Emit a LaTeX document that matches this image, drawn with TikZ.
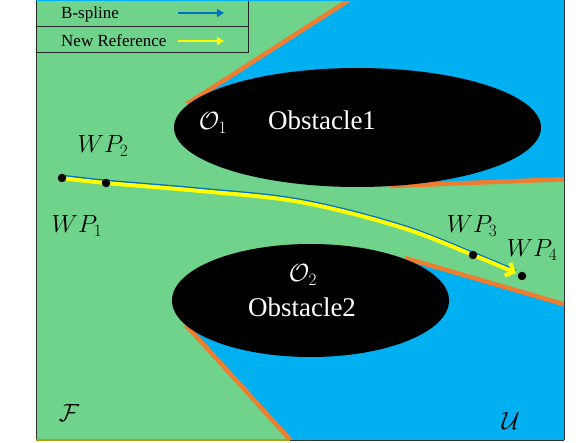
\documentclass[tikz,border=0pt]{standalone}
\usepackage{fontspec}
\setmainfont{Liberation Serif}
\usetikzlibrary{arrows.meta}
\definecolor{freeg}{RGB}{112,211,139}
\definecolor{unsafe}{RGB}{0,176,240}
\definecolor{bord}{RGB}{237,125,49}
\definecolor{splineblue}{RGB}{0,112,192}
\definecolor{refyellow}{RGB}{255,255,0}
\definecolor{olive}{RGB}{170,160,20}
\tikzset{
  boundary/.style={bord, line width=4.5pt},
  obstacle/.style={fill=black},
  wpdot/.style={circle, fill=black, inner sep=0pt, minimum size=8.5pt},
  wplabel/.style={anchor=base, inner sep=0pt, font=\fontsize{26}{30}\selectfont},
  oblabel/.style={anchor=base, inner sep=0pt, text=white, font=\fontsize{27}{30}\selectfont},
  oname/.style={anchor=base, inner sep=0pt, text=white, font=\fontsize{25}{30}\selectfont},
  setlabel/.style={anchor=base, inner sep=0pt, font=\fontsize{30}{34}\selectfont},
  legtext/.style={anchor=west, inner sep=0pt, font=\fontsize{17}{20}\selectfont},
  legline/.style={line width=0.9pt, draw=black!85},
}
\begin{document}
\begin{tikzpicture}[x=1pt,y=-1pt]
\useasboundingbox (0,0) rectangle (586,443);
\begin{scope}
\clip (36,0) rectangle (564,440);
\fill[freeg] (36,0) rectangle (564,440);
\fill[unsafe] (349,0) -- (187,105) -- (357,127) -- (393,186) -- (564,179) -- (564,0) -- cycle;
\fill[unsafe] (410,260) -- (310,300) -- (188,327) -- (290,440) -- (564,440) -- (564,304) -- cycle;
\draw[boundary] (187,104) -- (360,-7);
\draw[boundary] (390,186) -- (570,179);
\draw[boundary] (186,325) -- (294,444);
\draw[boundary] (405,258) -- (570,306);
\fill[obstacle] (357.5,127.5) ellipse [x radius=183.5pt, y radius=59.5pt];
\fill[obstacle] (310.5,300.5) ellipse [x radius=138.5pt, y radius=56.5pt];
\end{scope}
% frame
\draw[black!80, line width=1pt] (36,0) -- (36,440);
\draw[black!80, line width=1pt] (564,0) -- (564,440);
\draw[olive, line width=1.2pt] (36,440) -- (290,440);
\draw[black!80, line width=1pt] (290,440) -- (564,440);
% legend
\draw[legline] (36,0) rectangle (248,52.5);
\draw[legline] (36,26) -- (248,26);
\draw[unsafe, line width=1.2pt] (36,0.6) -- (564,0.6);
\node[legtext] (lb) at (61,14) {B-spline};
\node[legtext] (ln) at (61,41) {New Reference};
\coordinate (lb1) at (178,13);
\coordinate (lb2) at (224,13);
\coordinate (ln1) at (178,41);
\coordinate (ln2) at (224,41);
\draw[splineblue, line width=2pt, -{Triangle[length=7pt,width=8pt]}] (lb1) -- (lb2);
\draw[refyellow, line width=2pt, -{Triangle[length=7pt,width=8pt]}] (ln1) -- (ln2);
% obstacle labels
\node[oname] (o1) at (213,130) {$\mathcal{O}_1$};
\node[oblabel] (ob1) at (322,130) {Obstacle1};
\node[oname] (o2) at (303,282) {$\mathcal{O}_2$};
\node[oblabel] (ob2) at (302,317) {Obstacle2};
% sets
\node[setlabel] (F) at (69,421) {$\mathcal{F}$};
\node[setlabel] (U) at (511,429) {$\mathcal{U}$};
% path
\coordinate (wp1) at (62,178);
\coordinate (wp2) at (106,183);
\coordinate (m1) at (200,191);
\coordinate (m2) at (300,202);
\coordinate (m3) at (400,227);
\coordinate (wp3) at (473,255);
\coordinate (aend) at (516,273);
\coordinate (wp4) at (522,276);
\draw[splineblue, line width=1.6pt] plot[smooth, tension=0.6] coordinates {([yshift=2.6pt]wp1) ([yshift=2.6pt]wp2) ([yshift=2.6pt]m1) ([yshift=2.6pt]m2) ([yshift=2.6pt]m3) ([yshift=2.6pt]wp3) ([yshift=2.6pt]aend)};
\draw[refyellow, line width=4pt, -{Straight Barb[length=6.5pt,width=14pt]}] plot[smooth, tension=0.6] coordinates {(wp1) (wp2) (m1) (m2) (m3) (wp3) (aend)};
\node[wpdot] (d1) at (wp1) {};
\node[wpdot] (d2) at (wp2) {};
\node[wpdot] (d3) at (wp3) {};
\node[wpdot] (d4) at (wp4) {};
\node[wplabel] (l1) at (77,233) {$WP_1$};
\node[wplabel] (l2) at (103,153) {$WP_2$};
\node[wplabel] (l3) at (472,233) {$WP_3$};
\node[wplabel] (l4) at (532,257) {$WP_4$};
\end{tikzpicture}
\end{document}
